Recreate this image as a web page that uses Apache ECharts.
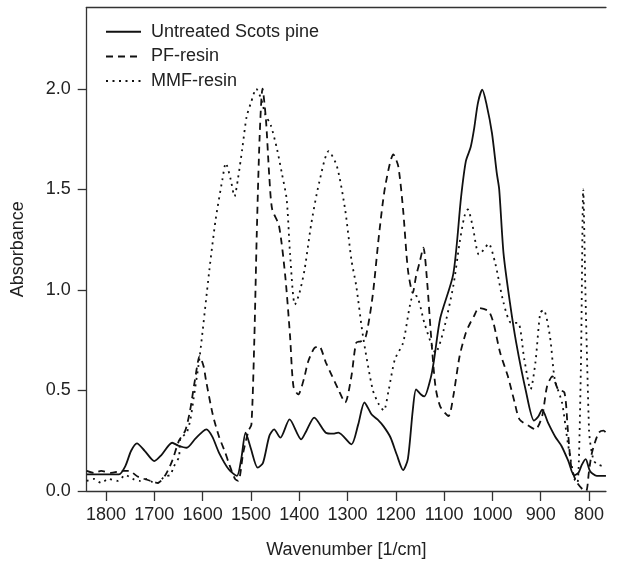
<!DOCTYPE html>
<html>
<head>
<meta charset="utf-8">
<script src="https://cdn.jsdelivr.net/npm/echarts@6/dist/echarts.min.js"></script>
<style>
html,body{margin:0;padding:0;background:#fff;}
#chart{width:623px;height:564px;}
</style>
</head>
<body>
<div id="chart"></div>
<script>
// Data
var seriesNames = ['Untreated Scots pine', 'PF-resin', 'MMF-resin'];
var xTicks = [1800, 1700, 1600, 1500, 1400, 1300, 1200, 1100, 1000, 900, 800];
var yTicks = [0, 0.5, 1.0, 1.5, 2.0];

var pineX = [1840,1800,1773,1760,1748,1736,1720,1700,1685,1663,1650,1633,1615,1600,1592,1580,1566,1546,1529,1520,1511,1500,1486,1475,1462,1452,1439,1420,1396,1385,1369,1345,1330,1319,1292,1278,1265,1250,1238,1225,1211,1198,1185,1175,1165,1158,1148,1141,1128,1121,1108,1081,1065,1055,1045,1038,1030,1021,1012,1001,991,986,977,964,951,931,914,905,897,885,870,857,843,831,822,815,807,798,784,765];
var pineY = [0.083,0.083,0.083,0.124,0.20,0.237,0.20,0.149,0.18,0.24,0.225,0.215,0.26,0.295,0.306,0.27,0.19,0.108,0.075,0.16,0.29,0.21,0.116,0.14,0.273,0.306,0.265,0.356,0.257,0.30,0.365,0.29,0.285,0.29,0.232,0.33,0.44,0.38,0.356,0.32,0.266,0.18,0.104,0.16,0.40,0.505,0.48,0.47,0.56,0.65,0.86,1.08,1.46,1.64,1.71,1.80,1.93,1.995,1.92,1.78,1.58,1.50,1.18,0.94,0.74,0.50,0.35,0.37,0.405,0.34,0.27,0.224,0.15,0.078,0.09,0.13,0.158,0.10,0.075,0.075];

var pfX = [1840,1825,1810,1790,1767,1753,1733,1707,1693,1677,1663,1649,1636,1626,1616,1606,1598,1593,1579,1566,1553,1546,1533,1526,1516,1505,1499,1493,1488,1482,1476,1469,1462,1456,1442,1429,1419,1412,1402,1390,1382,1369,1359,1345,1319,1305,1292,1282,1272,1262,1248,1235,1222,1205,1195,1185,1175,1165,1158,1151,1143,1135,1128,1118,1108,1091,1081,1068,1055,1045,1038,1028,1008,998,984,968,954,944,924,911,897,887,876,864,851,844,837,827,814,806,800,794,780,770,765];
var pfY = [0.10,0.09,0.10,0.09,0.10,0.10,0.07,0.05,0.04,0.08,0.15,0.25,0.30,0.40,0.55,0.67,0.62,0.55,0.38,0.27,0.19,0.14,0.06,0.05,0.19,0.30,0.33,0.75,1.27,1.76,2.0,1.85,1.565,1.40,1.32,1.07,0.77,0.52,0.48,0.56,0.64,0.71,0.72,0.64,0.505,0.44,0.57,0.737,0.745,0.77,0.97,1.27,1.515,1.673,1.615,1.40,1.10,0.985,1.07,1.134,1.21,1.035,0.80,0.52,0.42,0.373,0.472,0.67,0.787,0.84,0.87,0.91,0.894,0.836,0.687,0.57,0.44,0.356,0.323,0.306,0.373,0.52,0.57,0.505,0.49,0.307,0.124,0.05,0.01,0.0,0.10,0.19,0.29,0.30,0.29];

var mmfX = [1840,1825,1810,1795,1775,1760,1745,1730,1715,1700,1693,1680,1667,1660,1649,1646,1633,1625,1619,1606,1586,1573,1559,1552,1542,1534,1527,1518,1509,1500,1489,1479,1470,1459,1446,1436,1426,1419,1409,1400,1389,1375,1359,1339,1322,1305,1292,1282,1268,1248,1235,1225,1215,1202,1185,1168,1158,1141,1125,1118,1101,1081,1068,1058,1051,1041,1028,1018,1008,994,977,961,947,934,921,911,901,894,881,871,856,844,830,824,817,812,807,800,797,790,780,765];
var mmfY = [0.05,0.06,0.04,0.06,0.05,0.08,0.06,0.05,0.06,0.04,0.04,0.07,0.08,0.12,0.17,0.26,0.29,0.36,0.455,0.67,1.10,1.35,1.55,1.63,1.55,1.465,1.55,1.70,1.86,1.93,2.0,1.95,1.87,1.82,1.70,1.58,1.45,1.18,0.927,0.98,1.10,1.33,1.53,1.69,1.615,1.40,1.15,1.02,0.77,0.505,0.43,0.40,0.50,0.654,0.737,0.952,0.97,0.836,0.72,0.687,0.80,1.02,1.234,1.366,1.40,1.317,1.176,1.20,1.23,1.13,0.936,0.836,0.836,0.654,0.505,0.64,0.886,0.90,0.77,0.555,0.44,0.24,0.058,0.04,0.60,1.50,0.936,0.30,0.23,0.15,0.13,0.12];

function zip(xs, ys) { return xs.map(function (x, i) { return [x, ys[i]]; }); }

var FONT = '"Liberation Sans", Arial, Helvetica, sans-serif';
var TXT = '#222222';
var AX = '#333333';

var chart = echarts.init(document.getElementById('chart'), null, {renderer: 'canvas'});
var lineCommon = {
  type: 'line', showSymbol: false, symbol: 'none', symbolSize: 0, smooth: 0.25,
  animation: false, silent: true, clip: true
};
chart.setOption({
  animation: false,
  backgroundColor: '#ffffff',
  textStyle: {fontFamily: FONT},
  grid: {left: 86.7, right: 0, top: 7.3, bottom: 72.3, containLabel: false},
  legend: {
    orient: 'vertical', left: 105, top: 22.7, padding: 0,
    itemWidth: 35, itemHeight: 18, itemGap: 6.7,
    itemStyle: {opacity: 0},
    textStyle: {fontSize: 18, color: TXT, fontFamily: FONT, padding: [0, 0, 0, 5]},
    data: seriesNames
  },
  xAxis: [{
    type: 'value', inverse: true, min: 765, max: 1840, position: 'bottom',
    name: 'Wavenumber [1/cm]', nameLocation: 'middle', nameGap: 50,
    nameTextStyle: {fontSize: 18, color: TXT, fontFamily: FONT},
    axisLine: {show: true, onZero: false, lineStyle: {color: AX, width: 1.3}},
    axisTick: {show: true, customValues: xTicks, length: 10, lineStyle: {color: AX, width: 1.3}},
    axisLabel: {customValues: xTicks, margin: 15, fontSize: 18, color: TXT, fontFamily: FONT,
      formatter: function (v) { return String(v); }},
    splitLine: {show: false}
  }, {
    type: 'value', inverse: true, min: 765, max: 1840, position: 'top',
    axisLine: {show: true, onZero: false, lineStyle: {color: AX, width: 1.3}},
    axisTick: {show: false}, axisLabel: {show: false}, splitLine: {show: false}
  }],
  yAxis: {
    type: 'value', min: 0, max: 2.405,
    name: 'Absorbance', nameLocation: 'middle', nameGap: 60,
    nameTextStyle: {fontSize: 18, color: TXT, fontFamily: FONT},
    axisLine: {show: true, onZero: false, lineStyle: {color: AX, width: 1.3}},
    axisTick: {show: true, customValues: yTicks, length: 9, lineStyle: {color: AX, width: 1.3}},
    axisLabel: {customValues: yTicks, margin: 16, fontSize: 18, color: TXT, fontFamily: FONT,
      formatter: function (v) { return v.toFixed(1); }},
    splitLine: {show: false}
  },
  series: [
    Object.assign({}, lineCommon, {name: seriesNames[0], data: zip(pineX, pineY),
      lineStyle: {color: '#111111', width: 1.8, type: 'solid'}, itemStyle: {color: '#111111'}}),
    Object.assign({}, lineCommon, {name: seriesNames[1], data: zip(pfX, pfY),
      lineStyle: {color: '#111111', width: 1.8, type: [7, 5]}, itemStyle: {color: '#111111'}}),
    Object.assign({}, lineCommon, {name: seriesNames[2], data: zip(mmfX, mmfY),
      lineStyle: {color: '#111111', width: 1.8, type: [2, 4.5]}, itemStyle: {color: '#111111'}})
  ]
});
</script>
</body>
</html>
